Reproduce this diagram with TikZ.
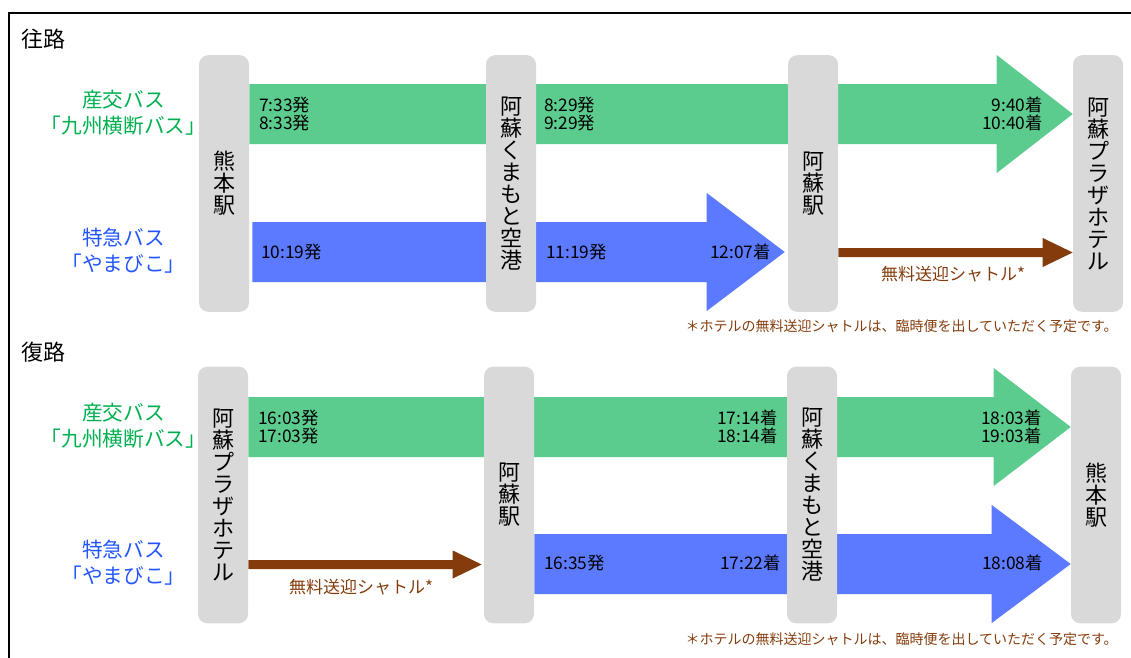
\documentclass[tikz,border=0pt]{standalone}
\usepackage{fontspec}
\setmainfont{Noto Sans CJK JP}
\usetikzlibrary{calc,backgrounds}
\definecolor{bandgreen}{HTML}{5BCB8E}
\definecolor{bandblue}{HTML}{5B7AFF}
\definecolor{boxgray}{HTML}{D9D9D9}
\definecolor{shuttle}{HTML}{843C0C}
\definecolor{txtgreen}{HTML}{00B050}
\definecolor{txtblue}{HTML}{2255FF}
\newcommand\fs[2]{\fontsize{#1}{#2}\selectfont}
% #1 colour, #2 start point, #3 tip point, #4 shaft half height, #5 head half height, #6 head length
\newcommand\fatarrow[6]{%
  \fill[#1] ($(#2)+(0,-#4)$) -- ($(#3)+(-#6,-#4)$) -- ($(#3)+(-#6,-#5)$) -- (#3)
    -- ($(#3)+(-#6,#5)$) -- ($(#3)+(-#6,#4)$) -- ($(#2)+(0,#4)$) -- cycle;}
\begin{document}
\begin{tikzpicture}[x=0.75pt,y=-0.75pt,
  station/.style={fill=boxgray, rounded corners=7pt, minimum width=37.5pt,
    minimum height=192.5pt, inner sep=0pt, align=center, font=\fs{16.5pt}{16.5pt}},
  title/.style={anchor=west, inner sep=0pt, font=\fs{16.5pt}{18pt}},
  busgreen/.style={align=center, inner sep=0pt, text=txtgreen, font=\fs{15.5pt}{19.5pt}},
  busblue/.style={align=center, inner sep=0pt, text=txtblue, font=\fs{15.5pt}{19.5pt}},
  tleft/.style={anchor=west, align=left, inner sep=0pt, font=\fs{13pt}{13.5pt}},
  tright/.style={anchor=east, align=right, inner sep=0pt, font=\fs{13pt}{13.5pt}},
  shuttlelabel/.style={inner sep=0pt, text=shuttle, font=\fs{12.75pt}{14pt}},
  note/.style={anchor=east, inner sep=0pt, text=shuttle, font=\fs{10.5pt}{12pt}}]
\useasboundingbox (0,0) rectangle (1131,657);
\draw[line width=1.5pt] (8.5,660) -- (8.5,13) -- (1135,13);

% ---------- 往路 ----------
\node[title] (t1) at (21,39) {往路};
\node[station] (kum1) at (224,183.5) {熊\\本\\駅};
\node[station] (aport1) at (511,183.5) {阿\\蘇\\く\\ま\\も\\と\\空\\港};
\node[station] (aso1) at (813,183.5) {阿\\蘇\\駅};
\node[station] (plaza1) at (1098,183.5) {阿\\蘇\\プ\\ラ\\ザ\\ホ\\テ\\ル};

\node[busgreen] (g1) at (123.5,113) {産交バス\\「九州横断バス」};
\node[busblue] (b1) at (123.5,251) {特急バス\\「やまびこ」};

\coordinate (g1s) at (kum1.east |- 0,114);
\coordinate (g1e) at (plaza1.west |- 0,114);
\coordinate (b1s) at ($(kum1.east |- 0,252)+(3,0)$);
\coordinate (b1e) at ($(aso1.west |- 0,252)+(-3,0)$);
\coordinate (s1s) at (aso1.east |- 0,252.5);
\coordinate (s1e) at (plaza1.west |- 0,252.5);
\begin{scope}[on background layer]
  \fatarrow{bandgreen}{g1s}{g1e}{30}{59}{76}
  \fatarrow{bandblue}{b1s}{b1e}{30}{59}{78}
  \fatarrow{shuttle}{s1s}{s1e}{4.5}{14.5}{30}
\end{scope}

\node[tleft] (t1a) at (259,113.5) {7:33発\\8:33発};
\node[tleft] (t1b) at (544,113.5) {8:29発\\9:29発};
\node[tright] (t1c) at (1043,113.5) {9:40着\\10:40着};
\node[tleft] (t1d) at (261,252) {10:19発};
\node[tleft] (t1e) at (546,252) {11:19発};
\node[tright] (t1f) at (771,252) {12:07着};
\node[shuttlelabel] (sl1) at (953,274) {無料送迎シャトル*};
\node[note] (n1) at (1118,326) {＊ホテルの無料送迎シャトルは、臨時便を出していただく予定です。};

% ---------- 復路 ----------
\node[title] (t2) at (21,352) {復路};
\node[station] (plaza2) at (223,495) {阿\\蘇\\プ\\ラ\\ザ\\ホ\\テ\\ル};
\node[station] (aso2) at (509,495) {阿\\蘇\\駅};
\node[station] (aport2) at (812,495) {阿\\蘇\\く\\ま\\も\\と\\空\\港};
\node[station] (kum2) at (1096,495) {熊\\本\\駅};

\node[busgreen] (g2) at (123.5,426) {産交バス\\「九州横断バス」};
\node[busblue] (b2) at (123.5,563) {特急バス\\「やまびこ」};

\coordinate (g2s) at (plaza2.east |- 0,427);
\coordinate (g2e) at (kum2.west |- 0,427);
\coordinate (b2s) at (aso2.east |- 0,564);
\coordinate (b2e) at (kum2.west |- 0,564);
\coordinate (s2s) at (plaza2.east |- 0,564.5);
\coordinate (s2e) at ($(aso2.west |- 0,564.5)+(-2,0)$);
\begin{scope}[on background layer]
  \fatarrow{bandgreen}{g2s}{g2e}{30}{59}{77}
  \fatarrow{bandblue}{b2s}{b2e}{30}{59}{79}
  \fatarrow{shuttle}{s2s}{s2e}{4.5}{14}{29}
\end{scope}

\node[tleft] (t2a) at (258,427) {16:03発\\17:03発};
\node[tright] (t2b) at (778,427) {17:14着\\18:14着};
\node[tright] (t2c) at (1042,427) {18:03着\\19:03着};
\node[tleft] (t2d) at (544,563) {16:35発};
\node[tright] (t2e) at (781,563) {17:22着};
\node[tright] (t2f) at (1043,563) {18:08着};
\node[shuttlelabel] (sl2) at (361,587) {無料送迎シャトル*};
\node[note] (n2) at (1118,639) {＊ホテルの無料送迎シャトルは、臨時便を出していただく予定です。};
\end{tikzpicture}
\end{document}
